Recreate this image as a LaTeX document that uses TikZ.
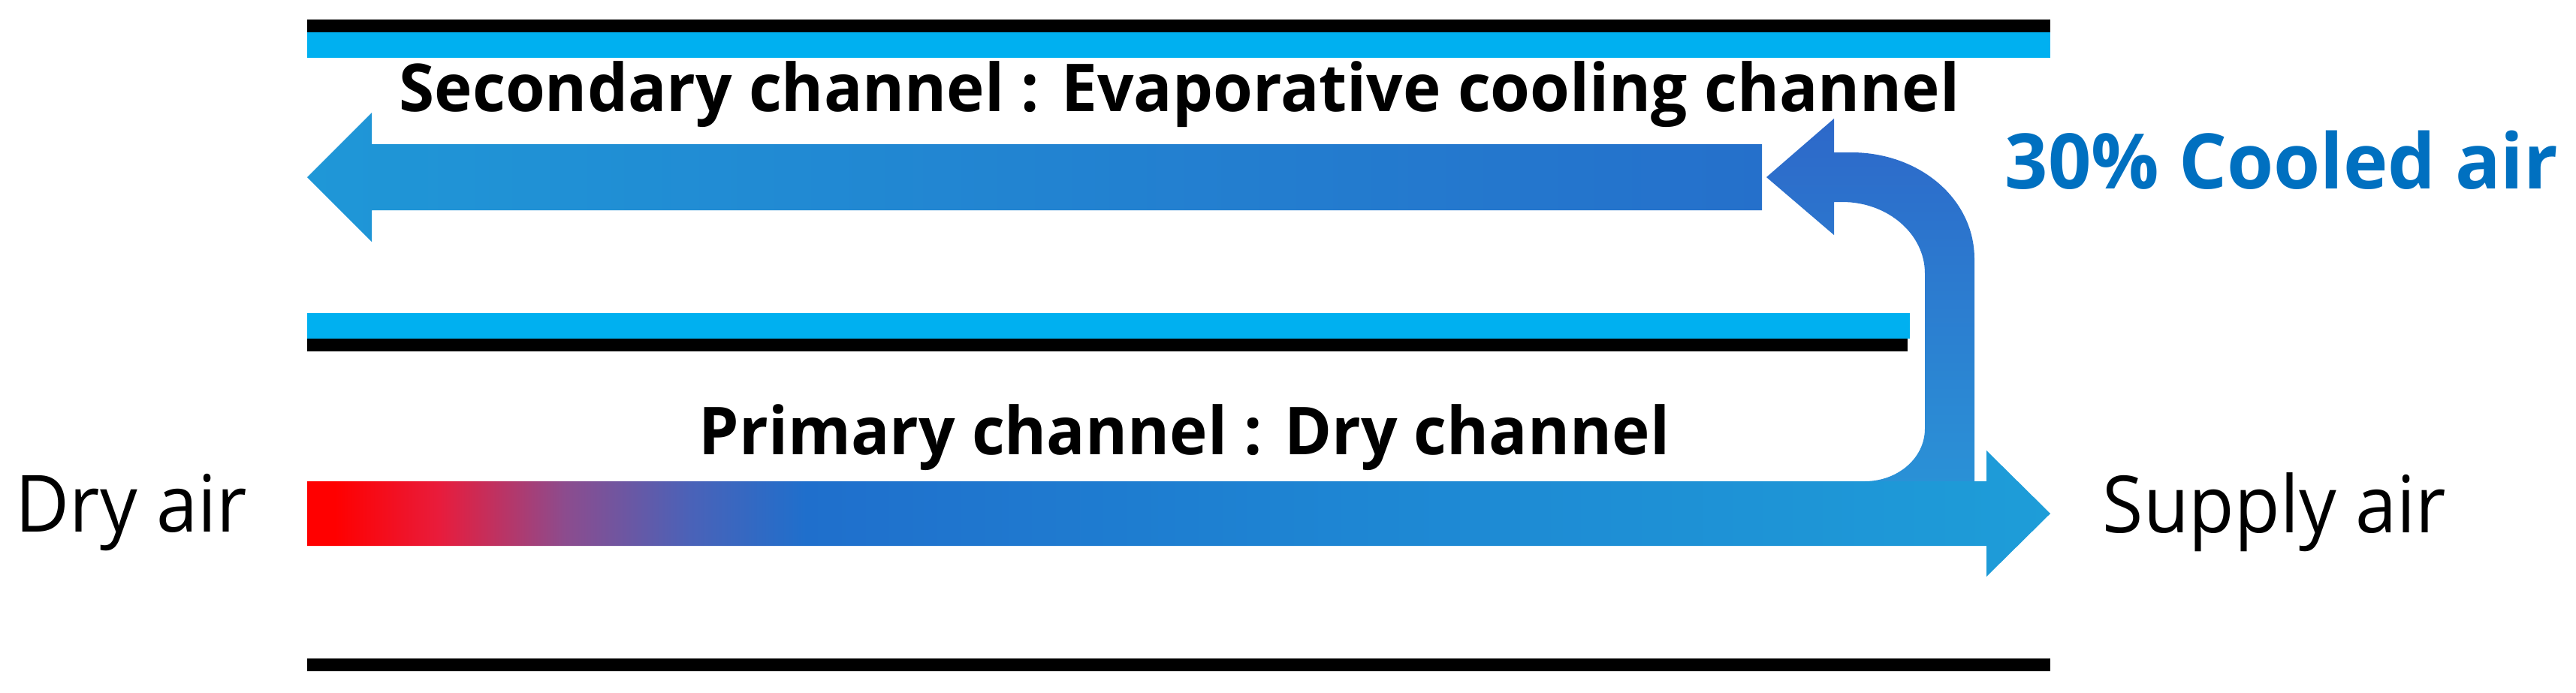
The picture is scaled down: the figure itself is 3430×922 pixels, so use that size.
\documentclass[tikz,border=0pt]{standalone}
\usepackage{fontspec}
\setmainfont{Open Sans}
\newfontfamily\boldlbl{Open Sans}[FakeStretch=0.97]
\newfontfamily\coollbl{Open Sans}[FakeStretch=0.985]
\newfontfamily\sidefont{Open Sans}[FakeStretch=0.94]
\definecolor{cyanline}{HTML}{00B0F0}
\definecolor{lblblue}{HTML}{0070C0}
\definecolor{hcA}{HTML}{FF0000}
\definecolor{hcB}{HTML}{E81C3C}
\definecolor{hcC}{HTML}{8C4C8E}
\definecolor{hcD}{HTML}{4A62B8}
\definecolor{hcE}{HTML}{1F6FCC}
\definecolor{hcF}{HTML}{1E86D3}
\definecolor{hcG}{HTML}{1E9DD8}
\definecolor{secL}{HTML}{1F97D7}
\definecolor{secR}{HTML}{2570CB}
\definecolor{uTop}{HTML}{2D68C9}
\definecolor{uBot}{HTML}{2A96D8}
\pgfdeclarehorizontalshading{hotcold}{100bp}{color(0bp)=(hcA); color(25.8bp)=(hcA); color(28.8bp)=(hcB); color(32.4bp)=(hcC); color(36bp)=(hcD); color(39.3bp)=(hcE); color(55bp)=(hcF); color(75bp)=(hcG); color(100bp)=(hcG)}
\tikzset{
  lbl/.style={anchor=base west, inner sep=0pt, font=\boldlbl\fontsize{22pt}{26pt}\selectfont\bfseries},
  sidelbl/.style={anchor=base west, inner sep=0pt, font=\sidefont\fontsize{26.3pt}{30pt}\selectfont},
  cool/.style={anchor=base west, inner sep=0pt, text=lblblue, font=\coollbl\fontsize{25.5pt}{30pt}\selectfont\bfseries},
}
\begin{document}
\begin{tikzpicture}[x=0.25pt,y=-0.25pt]
\useasboundingbox (0,0) rectangle (3430,922);
% channel walls
\fill[black] (409,26) rectangle (2730,43);
\fill[cyanline] (409,43) rectangle (2730,77);
\fill[cyanline] (409,417) rectangle (2543,451);
\fill[black] (409,451) rectangle (2540,468);
\fill[black] (409,877) rectangle (2730,894);
% secondary (left) arrow
\shade[left color=secL, right color=secR] (409,236) -- (495,150) -- (495,192) -- (2346,192) -- (2346,280) -- (495,280) -- (495,322) -- cycle;
% U-turn arrow
\shade[top color=uTop, bottom color=uBot] (2352,236) -- (2442,158) -- (2442,203) -- (2465,203)
  .. controls (2555,203) and (2629,264) .. (2629,345) -- (2629,700) -- (2450,700) -- (2450,641) -- (2483,641)
  .. controls (2527,641) and (2563,610) .. (2563,571) -- (2563,364)
  .. controls (2563,312) and (2514,269) .. (2453,269) -- (2442,269) -- (2442,313) -- cycle;
% primary (bottom) arrow
\shade[shading=hotcold] (409,641) -- (2645,641) -- (2645,600) -- (2730,684) -- (2645,768) -- (2645,727) -- (409,727) -- cycle;
% labels
\node[lbl] (sec) at (531,148) {Secondary channel : Evaporative cooling channel};
\node[lbl] (pri) at (930,605) {Primary channel : Dry channel};
\node[cool] (cooled) at (2669,251) {30\% Cooled air};
\node[sidelbl] (dry) at (20,708) {Dry air};
\node[sidelbl] (supply) at (2799,709) {Supply air};
\end{tikzpicture}
\end{document}
